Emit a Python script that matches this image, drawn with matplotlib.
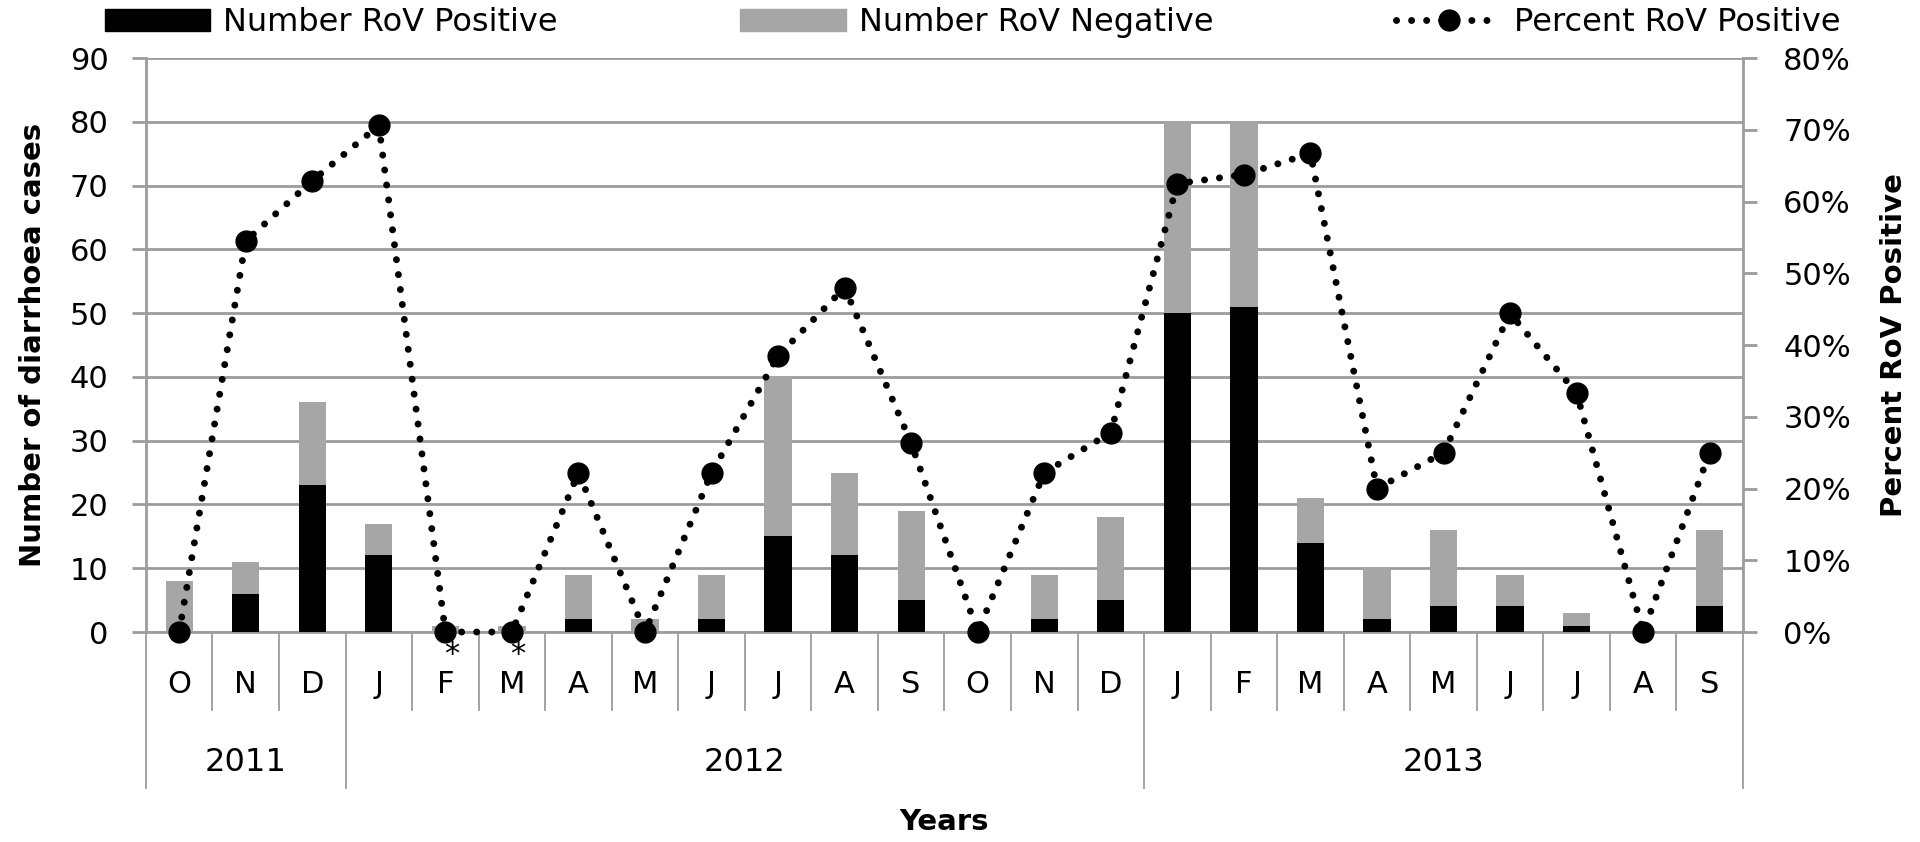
import numpy as np
import matplotlib
matplotlib.use("Agg")
import matplotlib.pyplot as plt
import matplotlib.transforms as mtrans
from matplotlib.patches import Patch
from matplotlib.lines import Line2D

plt.rcParams['font.family'] = ['DejaVu Sans']

# data (Oct 2011 - Sep 2013)
months = ['O', 'N', 'D', 'J', 'F', 'M', 'A', 'M', 'J', 'J', 'A', 'S',
          'O', 'N', 'D', 'J', 'F', 'M', 'A', 'M', 'J', 'J', 'A', 'S']
years = ['2011', '2012', '2013']
year_span = [(0, 2), (3, 14), (15, 23)]
starred = [4, 5]

rov_pos = [0, 6, 23, 12, 0, 0, 2, 0, 2, 15, 12, 5,
           0, 2, 5, 50, 51, 14, 2, 4, 4, 1, 0, 4]
rov_neg = [8, 5, 13, 5, 1, 1, 7, 2, 7, 25, 13, 14,
           0, 7, 13, 30, 29, 7, 8, 12, 5, 2, 0, 12]
pct_pos = [0, 54.5, 62.9, 70.6, 0, 0, 22.2, 0, 22.2, 38.5, 48.0, 26.3,
           0, 22.2, 27.8, 62.5, 63.75, 66.7, 20.0, 25.0, 44.4, 33.3, 0, 25.0]

grey = '#a6a6a6'
gridc = '#9c9c9c'
fs = 22

fig = plt.figure(figsize=(19.2, 8.42), dpi=100)
ax = fig.add_axes([0.0760, 0.2494, 0.8318, 0.6817])
x = np.arange(len(months))

ax.bar(x, rov_pos, width=0.41, color='black', zorder=3)
ax.bar(x, rov_neg, width=0.41, bottom=rov_pos, color=grey, zorder=3)

ax.set_xlim(-0.5, len(months) - 0.5)
ax.set_ylim(0, 90)
ax.set_yticks(range(0, 91, 10))
ax.yaxis.grid(True, color=gridc, lw=2.0, zorder=0)
ax.set_axisbelow(True)
ax.set_xticks([])
ax.tick_params(axis='y', direction='out', length=10, width=2.0, color=gridc,
               pad=17, labelsize=fs)
for s in ['top', 'right']:
    ax.spines[s].set_visible(False)
for s in ['left', 'bottom']:
    ax.spines[s].set_color(gridc)
    ax.spines[s].set_linewidth(2.0)
ax.set_ylabel('Number of diarrhoea cases', fontsize=21, fontweight='bold')
ax.yaxis.set_label_coords(-0.0621, 0.5)

ax2 = ax.twinx()
ax2.set_ylim(0, 80)
ax2.set_yticks(range(0, 81, 10))
ax2.set_yticklabels([f'{v}%' for v in range(0, 81, 10)])
ax2.tick_params(axis='y', direction='out', length=10, width=2.0, color=gridc,
                pad=19, labelsize=fs)
for s in ['top', 'left', 'bottom']:
    ax2.spines[s].set_visible(False)
ax2.spines['right'].set_color(gridc)
ax2.spines['right'].set_linewidth(2.0)
ax2.plot(x, pct_pos, color='black', lw=5, linestyle=(0, (0.01, 2.16)),
         dash_capstyle='round', marker='o', markersize=15, clip_on=False, zorder=5)
ax2.set_ylabel('Percent RoV Positive', fontsize=21, fontweight='bold', rotation=90)
ax2.yaxis.set_label_coords(1.0855, 0.5)

# category axis below the plot
tr = mtrans.blended_transform_factory(ax.transData, ax.transAxes)
for b in range(len(months) + 1):
    long_sep = b in (0, 3, 15, len(months))
    ax.plot([b - 0.5, b - 0.5], [0, -0.272 if long_sep else -0.136], transform=tr,
            color=gridc, lw=1.3, clip_on=False)
for i, m in enumerate(months):
    ax.text(i, -0.0923, m, transform=tr, ha='center', va='center', fontsize=fs)
for i in starred:
    ax.text(i + 0.09, -0.064, '*', transform=tr, ha='center', va='bottom', fontsize=22)
for yr, (a, b) in zip(years, year_span):
    ax.text((a + b) / 2, -0.228, yr, transform=tr, ha='center', va='center', fontsize=23)
ax.text(0.5, -0.331, 'Years', transform=ax.transAxes, ha='center', va='center',
        fontsize=21, fontweight='bold')

handles = [Patch(color='black'), Patch(color=grey),
           Line2D([], [], color='black', lw=5, linestyle=(0, (0.01, 2.16)),
                  dash_capstyle='round', marker='o', markersize=15)]
labels = ['Number RoV Positive', 'Number RoV Negative', 'Percent RoV Positive']
fig.legend(handles, labels, loc='center', ncol=3, mode='expand',
           bbox_to_anchor=(0.0547, 0.9727, 0.904, 0), frameon=False,
           fontsize=23, handlelength=3.3, handletextpad=0.4, borderpad=0,
           borderaxespad=0, numpoints=1)

fig.savefig('out.png', dpi=100)
